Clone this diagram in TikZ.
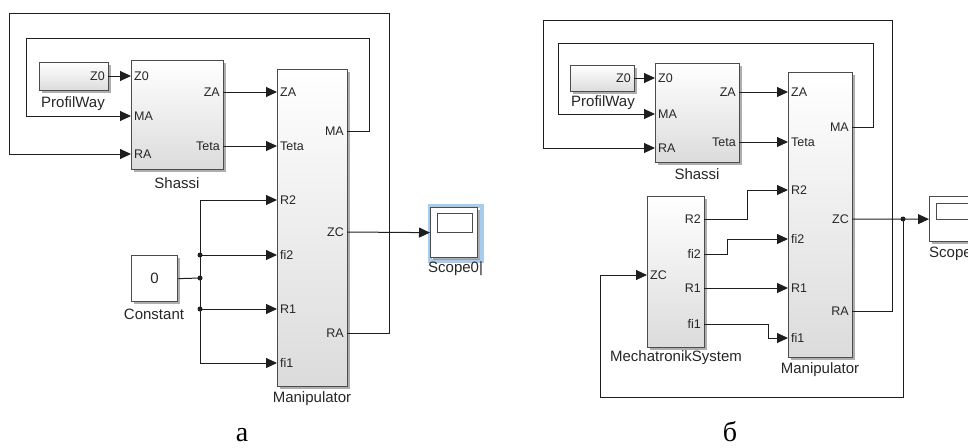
\documentclass[tikz,border=0pt]{standalone}
\usepackage{fontspec}
\setmainfont{Liberation Sans}
\newfontfamily\capfont{Liberation Serif}
\usetikzlibrary{arrows.meta,shadows}
\definecolor{hlblue}{RGB}{168,204,240}
\definecolor{wirec}{RGB}{30,30,30}
\tikzset{
  blk/.style={draw=black!70, line width=1.3pt, top color=white, bottom color=black!14, inner sep=0pt,
    drop shadow={shadow xshift=2pt, shadow yshift=-2pt, fill=black!45, opacity=0.7}},
  wblk/.style={blk, top color=white, bottom color=white},
  port/.style={font=\fontsize{12.5}{14}\selectfont, inner ysep=0pt, inner xsep=3pt, text=black!85},
  inport/.style={port, anchor=west},
  outport/.style={port, anchor=east},
  lbl/.style={font=\fontsize{15}{17}\selectfont, inner sep=0pt, text=black!85},
  captxt/.style={font=\capfont\fontsize{28}{30}\selectfont, inner sep=0pt},
  wr/.style={draw=wirec, line width=1pt},
  sig/.style={wr, -{Triangle[length=11pt,width=10pt]}},
  jn/.style={circle, fill=wirec, inner sep=0pt, minimum size=5pt},
}
\begin{document}
\begin{tikzpicture}[x=1pt,y=-1pt]
\useasboundingbox (0,0) rectangle (968,447);
\clip (0,0) rectangle (968,447);
% a
\node[blk, minimum width=69pt, minimum height=28pt, anchor=north west] (lpw) at (39,62) {};
\node[outport] (lpwZ0) at (108,76) {Z0};
\node[lbl] (lpwT) at (73,104) {ProfilWay};

\node[blk, minimum width=92pt, minimum height=109pt, anchor=north west] (lsh) at (131,60) {};
\node[inport] (lshZ0) at (131,76) {Z0};
\node[inport] (lshMA) at (131,116) {MA};
\node[inport] (lshRA) at (131,154) {RA};
\node[outport] (lshZA) at (223,92) {ZA};
\node[outport] (lshTe) at (223,146) {Teta};
\node[lbl] (lshT) at (177,183) {Shassi};

\node[blk, minimum width=70pt, minimum height=317pt, anchor=north west] (lm) at (277,69) {};
\node[inport] (lmZA) at (277,92) {ZA};
\node[inport] (lmTe) at (277,146) {Teta};
\node[inport] (lmR2) at (277,200) {R2};
\node[inport] (lmfi2) at (277,255) {fi2};
\node[inport] (lmR1) at (277,309) {R1};
\node[inport] (lmfi1) at (277,363) {fi1};
\node[outport] (lmMA) at (347,131) {MA};
\node[outport] (lmZC) at (347,232) {ZC};
\node[outport] (lmRA) at (347,333) {RA};
\node[lbl] (lmT) at (312,399) {Manipulator};

\node[wblk, lbl, minimum width=46pt, minimum height=46pt, anchor=north west] (lcst) at (131,255) {0};
\node[lbl] (lcstT) at (154,314) {Constant};

\node[draw=hlblue, line width=4pt, minimum width=52pt, minimum height=55pt, anchor=north west] (lhl) at (428,204) {};
\node[wblk, minimum width=47pt, minimum height=50pt, anchor=north west] (lsc) at (430,207) {};
\node[draw=black!70, line width=1.3pt, fill=white, minimum width=35pt, minimum height=19pt, anchor=north west] (lscr) at (437,213) {};
\node[lbl, anchor=west] (lscT) at (428,269) {Scope0|};

\draw[sig] (lpwZ0.east) -- (lshZ0.west);
\draw[sig] (lshZA.east) -- (lmZA.west);
\draw[sig] (lshTe.east) -- (lmTe.west);
\draw[sig] (lmMA.east) -| (369,38) -| (26,116) -- (lshMA.west);
\draw[sig] (lmRA.east) -| (389,13) -| (9,154) -- (lshRA.west);
\draw[sig] (lmZC.east) -- (lsc.west);
\coordinate (lbr) at (200,278);
\draw[wr] (lcst.east) -- (lbr);
\draw[sig] (lbr) |- (lmR2.west);
\draw[sig] (lbr) |- (lmfi2.west);
\draw[sig] (lbr) |- (lmR1.west);
\draw[sig] (lbr) |- (lmfi1.west);
\node[jn] (ld1) at (200,255) {};
\node[jn] (ld2) at (lbr) {};
\node[jn] (ld3) at (200,309) {};
\node[captxt, anchor=base] (capA) at (242,441) {а};

% б
\node[blk, minimum width=64pt, minimum height=26pt, anchor=north west] (rpw) at (570,65) {};
\node[outport] (rpwZ0) at (634,78) {Z0};
\node[lbl] (rpwT) at (603,103) {ProfilWay};

\node[blk, minimum width=84pt, minimum height=99pt, anchor=north west] (rsh) at (655,63) {};
\node[inport] (rshZ0) at (655,78) {Z0};
\node[inport] (rshMA) at (655,114) {MA};
\node[inport] (rshRA) at (655,148) {RA};
\node[outport] (rshZA) at (739,92) {ZA};
\node[outport] (rshTe) at (739,142) {Teta};
\node[lbl] (rshT) at (697,174) {Shassi};

\node[blk, minimum width=64pt, minimum height=285pt, anchor=north west] (rm) at (788,72) {};
\node[inport] (rmZA) at (788,92) {ZA};
\node[inport] (rmTe) at (788,142) {Teta};
\node[inport] (rmR2) at (788,190) {R2};
\node[inport] (rmfi2) at (788,239) {fi2};
\node[inport] (rmR1) at (788,288) {R1};
\node[inport] (rmfi1) at (788,338) {fi1};
\node[outport] (rmMA) at (852,127) {MA};
\node[outport] (rmZC) at (852,219) {ZC};
\node[outport] (rmRA) at (852,311) {RA};
\node[lbl] (rmT) at (820,370) {Manipulator};

\node[blk, minimum width=57pt, minimum height=151pt, anchor=north west] (rx) at (647,196) {};
\node[inport] (rxZC) at (647,275) {ZC};
\node[outport] (rxR2) at (704,219) {R2};
\node[outport] (rxfi2) at (704,254) {fi2};
\node[outport] (rxR1) at (704,288) {R1};
\node[outport] (rxfi1) at (704,324) {fi1};
\node[lbl] (rxT) at (676,358) {MechatronikSystem};

\node[wblk, minimum width=47pt, minimum height=45pt, anchor=north west] (rsc) at (929,196) {};
\node[draw=black!70, line width=1.3pt, fill=white, minimum width=36pt, minimum height=16pt, anchor=north west] (rscr) at (936,203) {};
\node[lbl, anchor=west] (rscT) at (929,254) {Scope};

\draw[sig] (rpwZ0.east) -- (rshZ0.west);
\draw[sig] (rshZA.east) -- (rmZA.west);
\draw[sig] (rshTe.east) -- (rmTe.west);
\draw[sig] (rmMA.east) -| (873,43) -| (558,114) -- (rshMA.west);
\draw[sig] (rmRA.east) -| (892,20) -| (543,148) -- (rshRA.west);
\draw[sig] (rxR2.east) -| (747,190) -- (rmR2.west);
\draw[sig] (rxfi2.east) -| (727,239) -- (rmfi2.west);
\draw[sig] (rxR1.east) -- (rmR1.west);
\draw[sig] (rxfi1.east) -| (768,338) -- (rmfi1.west);
\draw[sig] (rmZC.east) -- (rsc.west);
\coordinate (rbr) at (903,219);
\draw[sig] (rbr) |- (600,397) |- (rxZC.west);
\node[jn] (rd) at (rbr) {};
\node[captxt, anchor=base] (capB) at (730,441) {б};
\end{tikzpicture}
\end{document}
